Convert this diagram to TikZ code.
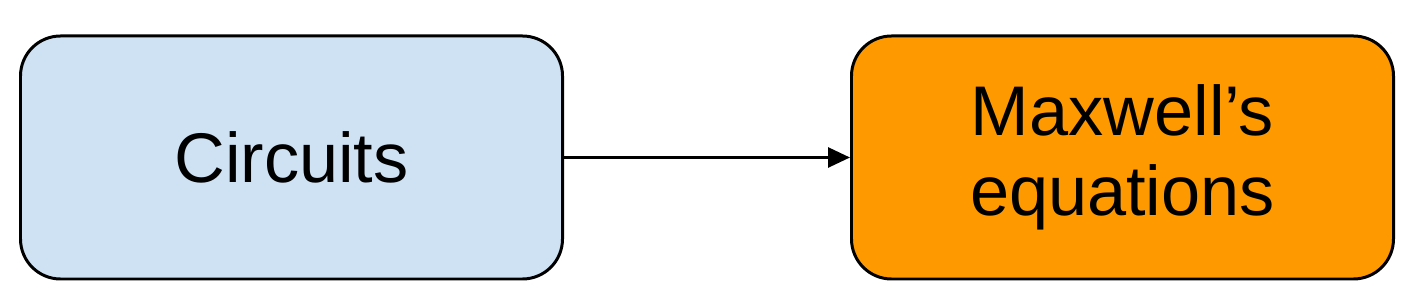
\documentclass[tikz,border=0pt]{standalone}
\usepackage{fontspec}
\setmainfont{Liberation Sans}
\usepackage{tikz}
\usetikzlibrary{arrows.meta,positioning}
\definecolor{circblue}{HTML}{CFE2F3}
\definecolor{maxorange}{HTML}{FF9900}

\begin{document}
\begin{tikzpicture}[
    box/.style={draw,line width=1.7pt,rounded corners=0.8cm,minimum width=10.84cm,minimum height=4.86cm,
      align=center,font=\fontsize{40}{45.5}\selectfont,inner sep=0pt}]
  \useasboundingbox (0,0) rectangle (28.32,-6.16);
  \node[box,fill=circblue] (circ) at (5.83,-3.15) {Circuits};
  \node[box,fill=maxorange,right=5.72cm of circ] (maxw) {Maxwell’s\\equations};
  \draw[line width=1.6pt,-{Triangle[length=0.44cm,width=0.4cm]}] (circ.east) -- (maxw.west);
\end{tikzpicture}
\end{document}
